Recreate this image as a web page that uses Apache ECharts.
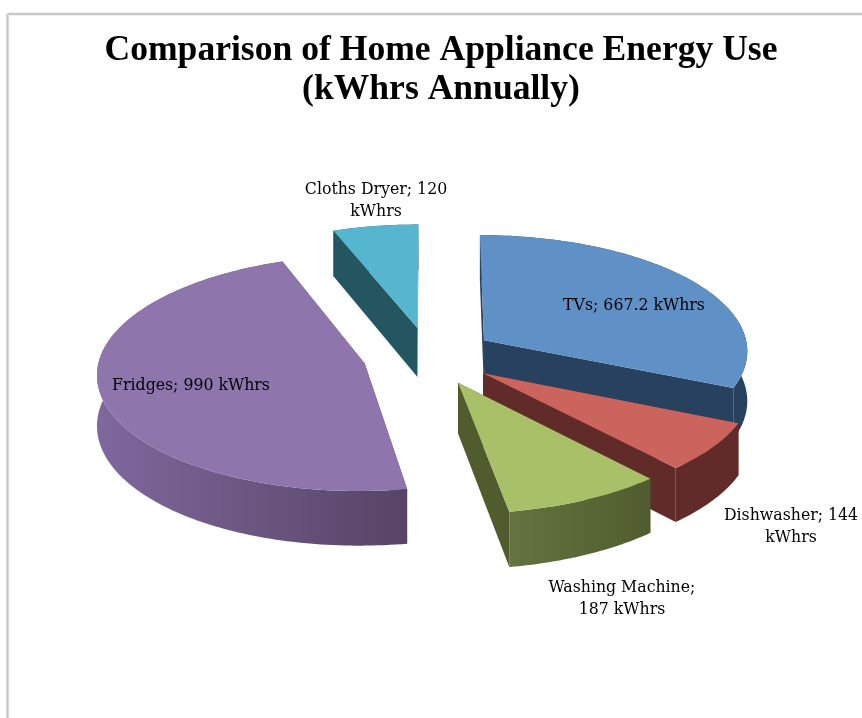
<!DOCTYPE html>
<html>
<head>
<meta charset="utf-8">
<title>Comparison of Home Appliance Energy Use</title>
<script src="https://cdn.jsdelivr.net/npm/echarts@6/dist/echarts.min.js"></script>
<style>
    html,body{margin:0;padding:0;background:#fff;}
    #chart{width:862px;height:718px;}
</style>
</head>
<body>
<div id="chart"></div>
<script>
// clockwise from 12 o'clock
var categories = ['TVs', 'Dishwasher', 'Washing Machine', 'Fridges', 'Cloths Dryer'];
var kwhValues = [667.2, 144, 187, 990, 120];
var unit = 'kWhrs';

var topColors = ['#5f91c6', '#cb645c', '#a8c169', '#8e75ab', '#56b5cf'];
var sideColors = ['#27415f', '#612b29', '#505c2e', '#574465', '#235661'];
var sideLightColors = ['#27415f', '#612b29', '#64733f', '#7f689d', '#235661'];
// back to front
var drawOrder = [4, 3, 0, 1, 2];
var labelLines = [
    ['TVs; 667.2 kWhrs'],
    ['Dishwasher; 144', 'kWhrs'],
    ['Washing Machine;', '187 kWhrs'],
    ['Fridges; 990 kWhrs'],
    ['Cloths Dryer; 120', 'kWhrs']
];
var labelAnchors = [[634, 305], [791, 526], [622, 598], [191, 385], [376, 200]];

// fake 3d view of the pie
var view = {cx: 429, cy: 356, fx: 265, fy: 116, persp: 0.08, explode: 0.25, height: 50};

function project(wx, wz, lift) {
    var s = 1 / (1 + view.persp * wz);
    return [view.cx + view.fx * wx * s, view.cy - view.fy * wz * s + lift * s];
}

function arcPoints(off, a0, a1, lift) {
    var pts = [];
    var n = Math.ceil(Math.abs(a1 - a0) / 0.02);
    for (var i = 0; i <= n; i++) {
        var a = a0 + (a1 - a0) * i / n;
        pts.push(project(off[0] + Math.sin(a), off[1] + Math.cos(a), lift));
    }
    return pts;
}

var total = kwhValues.reduce(function (s, v) { return s + v; }, 0);

function renderSlice(params, api) {
    var idx = params.dataIndex;
    var before = 0;
    for (var i = 0; i < idx; i++) before += kwhValues[i];
    var a0 = before / total * Math.PI * 2;
    var a1 = (before + api.value(0)) / total * Math.PI * 2;
    var mid = (a0 + a1) / 2;
    var off = [Math.sin(mid) * view.explode, Math.cos(mid) * view.explode];
    var z = drawOrder.indexOf(idx) * 10;

    var apexTop = project(off[0], off[1], 0);
    var apexLow = project(off[0], off[1], view.height);
    var rimTop = arcPoints(off, a0, a1, 0);
    var rimLow = arcPoints(off, a0, a1, view.height);

    var children = [];
    // cut faces
    [rimTop[0], rimTop[rimTop.length - 1]].forEach(function (p, k) {
        var q = k == 0 ? rimLow[0] : rimLow[rimLow.length - 1];
        children.push({
            type: 'polygon',
            z2: z,
            shape: {points: [apexTop, p, q, apexLow]},
            style: {fill: sideColors[idx]}
        });
    });
    // outer wall
    children.push({
        type: 'polygon',
        z2: z + 1,
        shape: {points: rimTop.concat(rimLow.slice().reverse())},
        style: {
            fill: new echarts.graphic.LinearGradient(0, 0, 1, 0, [
                {offset: 0, color: sideLightColors[idx]},
                {offset: 1, color: sideColors[idx]}
            ])
        }
    });
    // top
    children.push({
        type: 'polygon',
        z2: z + 2,
        shape: {points: [apexTop].concat(rimTop)},
        style: {fill: topColors[idx]}
    });
    // label
    children.push({
        type: 'text',
        z2: 100,
        style: {
            x: labelAnchors[idx][0],
            y: labelAnchors[idx][1],
            text: labelLines[idx].join('\n'),
            font: '17.5px "DejaVu Serif Condensed", "DejaVu Serif"',
            lineHeight: 22,
            fill: '#000',
            align: 'center',
            verticalAlign: 'middle'
        }
    });
    return {type: 'group', children: children};
}

var myChart = echarts.init(document.getElementById('chart'));
var option = {
    backgroundColor: '#fff',
    animation: false,
    title: {
        text: 'Comparison of Home Appliance Energy Use\n(kWhrs Annually)',
        left: 436,
        top: 26,
        textAlign: 'center',
        textStyle: {
            fontFamily: 'Liberation Serif',
            fontWeight: 'bold',
            fontSize: 35.6,
            lineHeight: 39,
            color: '#000'
        }
    },
    graphic: [
        {type: 'line', shape: {x1: 7.5, y1: 14, x2: 862, y2: 14}, style: {stroke: '#c8c8c8', lineWidth: 2.5}},
        {type: 'line', shape: {x1: 7.5, y1: 14, x2: 7.5, y2: 718}, style: {stroke: '#c8c8c8', lineWidth: 2.5}}
    ],
    series: [{
        type: 'custom',
        coordinateSystem: 'none',
        renderItem: renderSlice,
        silent: true,
        data: kwhValues.map(function (v, i) { return {name: categories[i], value: [v]}; })
    }]
};
myChart.setOption(option);
</script>
</body>
</html>
